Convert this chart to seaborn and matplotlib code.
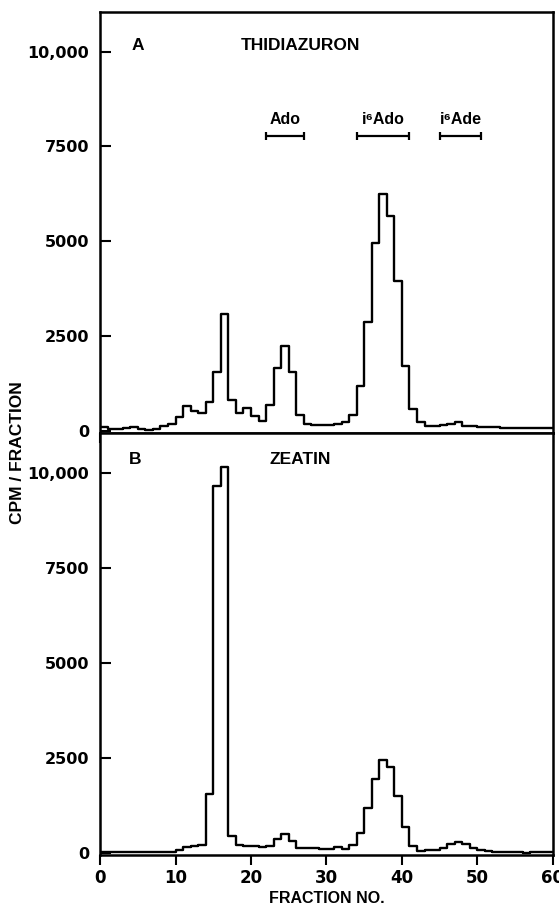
import numpy as np
import pandas as pd
import matplotlib.pyplot as plt
import seaborn as sns

# fraction bins 0..60, one value per fraction (cpm per fraction)
fraction_no = np.arange(60) + 0.5

cpm_thidiazuron = [
    100, 50, 40, 70, 90, 40, 30, 40, 130, 180,
    370, 650, 520, 480, 760, 1550, 3070, 810, 470, 600,
    400, 260, 680, 1660, 2230, 1540, 430, 180, 150, 150,
    150, 170, 230, 430, 1180, 2870, 4950, 6250, 5670, 3940,
    1710, 590, 245, 120, 130, 160, 170, 240, 140, 120,
    110, 100, 90, 80, 80, 70, 70, 70, 70, 70,
]
cpm_zeatin = [
    40, 30, 20, 30, 20, 30, 20, 40, 30, 20,
    70, 160, 190, 210, 1560, 9670, 10170, 440, 210, 190,
    190, 160, 190, 380, 510, 320, 140, 140, 130, 110,
    115, 170, 115, 210, 530, 1200, 1950, 2450, 2270, 1500,
    690, 200, 50, 70, 90, 130, 230, 280, 230, 130,
    80, 50, 30, 40, 20, 30, 10, 20, 20, 20,
]

# marker standards shown above panel A
std_names = ["Ado", "i\u2076Ado", "i\u2076Ade"]
std_start = [22, 34, 45]
std_end = [27, 41, 50.5]
std_level = 7770

yticks = [0, 2500, 5000, 7500, 10000]
ytick_labels = ["0", "2500", "5000", "7500", "10,000"]
xticks = [0, 10, 20, 30, 40, 50, 60]

sns.set_style("ticks")
plt.rcParams["font.family"] = ["DejaVu Sans"]
plt.rcParams.update({
    "axes.linewidth": 1.8,
    "axes.edgecolor": "black",
    "axes.labelcolor": "black",
    "text.color": "black",
    "xtick.color": "black",
    "ytick.color": "black",
})

df = pd.DataFrame({
    "fraction": np.concatenate([fraction_no, fraction_no]),
    "cpm": cpm_thidiazuron + cpm_zeatin,
    "panel": ["A"] * 60 + ["B"] * 60,
})

fig = plt.figure(figsize=(5.59, 9.10), dpi=100)
ax_a = fig.add_axes([0.179, 0.524, 0.810, 0.463])
ax_b = fig.add_axes([0.179, 0.060, 0.810, 0.464])

for ax, panel in [(ax_a, "A"), (ax_b, "B")]:
    sub = df[df["panel"] == panel]
    sns.histplot(data=sub, x="fraction", weights="cpm", binwidth=1,
                 binrange=(0, 60), element="step", fill=False,
                 color="black", linewidth=1.7, ax=ax)
    ax.set_xlim(0, 60)
    ax.set_ylim(-60, 11050)
    ax.set_yticks(yticks)
    ax.set_yticklabels(ytick_labels)
    ax.set_xticks(xticks)
    ax.set_ylabel("")
    ax.set_xlabel("")
    ax.tick_params(axis="y", direction="in", length=8, width=1.5, pad=8,
                   labelsize=11.5)
    ax.tick_params(axis="x", direction="out", length=7, width=1.5, pad=3,
                   labelsize=12)
    for lab in ax.get_yticklabels() + ax.get_xticklabels():
        lab.set_fontweight("bold")
    for sp in ax.spines.values():
        sp.set_visible(True)
        sp.set_linewidth(1.8)
        sp.set_color("black")

ax_a.tick_params(axis="x", labelbottom=False)

ax_a.text(4.2, 10150, "A", fontsize=12.5, fontweight="bold", va="center",
          family=["Liberation Sans", "DejaVu Sans"])
ax_a.text(18.6, 10150, "THIDIAZURON", fontsize=12.5, fontweight="bold",
          va="center", family=["Liberation Sans", "DejaVu Sans"])
ax_b.text(3.8, 10350, "B", fontsize=12.5, fontweight="bold", va="center",
          family=["Liberation Sans", "DejaVu Sans"])
ax_b.text(22.5, 10350, "ZEATIN", fontsize=12.5, fontweight="bold",
          va="center", family=["Liberation Sans", "DejaVu Sans"])

for name, s, e in zip(std_names, std_start, std_end):
    mid = (s + e) / 2
    ax_a.errorbar([mid], [std_level], xerr=[(e - s) / 2], fmt="none",
                  ecolor="black", elinewidth=1.6, capsize=3, capthick=1.6)
    ax_a.text(mid, std_level + 230, name, ha="center", va="bottom",
              fontsize=11.5, fontweight="bold",
              family=["Liberation Sans", "DejaVu Sans"])

fig.text(0.032, 0.503, "CPM / FRACTION", rotation=90, ha="center", va="center",
         fontsize=12.5, fontweight="bold",
         family=["Liberation Sans Narrow", "Liberation Sans", "DejaVu Sans"])
ax_b.set_xlabel("FRACTION NO.", fontsize=11.5, fontweight="bold", labelpad=3,
                color="black", family=["Liberation Sans", "DejaVu Sans"])

fig.savefig("out.png", dpi=100)
